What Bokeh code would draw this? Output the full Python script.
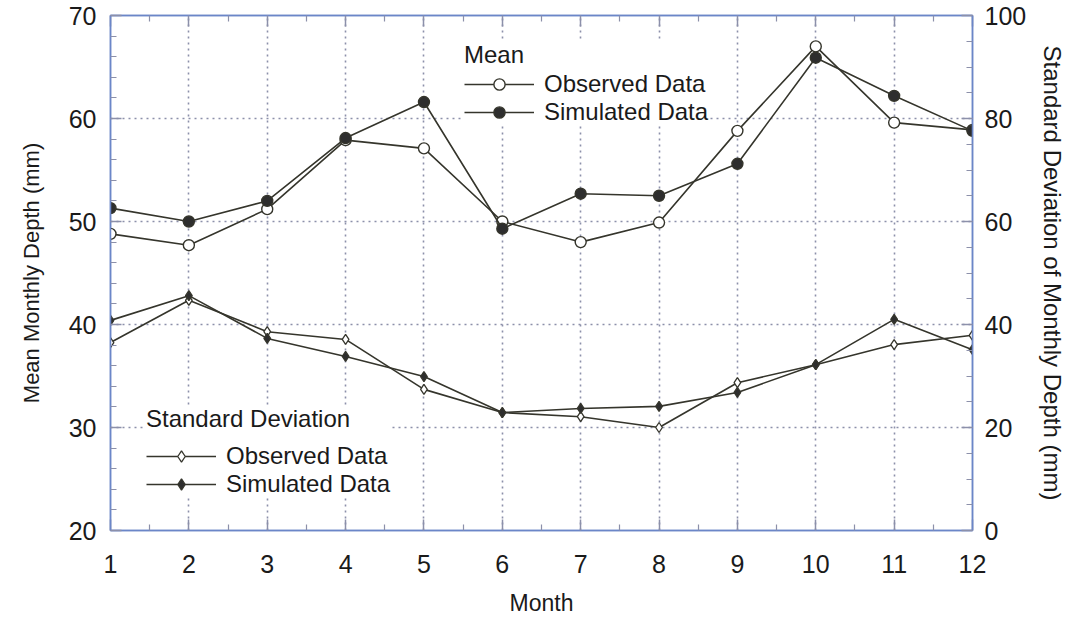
from bokeh.plotting import figure
from bokeh.models import (Range1d, LinearAxis, FixedTicker, Legend, LegendItem)
from bokeh.embed import file_html
from bokeh.resources import INLINE

# Monthly precipitation depth statistics: observed vs simulated
months = [1, 2, 3, 4, 5, 6, 7, 8, 9, 10, 11, 12]
mean_observed = [48.8, 47.7, 51.2, 57.9, 57.1, 50.0, 48.0, 49.9, 58.8, 67.0, 59.6, 58.9]
mean_simulated = [51.3, 50.0, 52.0, 58.1, 61.6, 49.3, 52.7, 52.5, 55.6, 65.9, 62.2, 58.8]
sd_observed = [36.5, 44.7, 38.6, 37.1, 27.4, 22.9, 22.1, 20.0, 28.7, 32.2, 36.1, 37.9]
sd_simulated = [40.8, 45.6, 37.3, 33.8, 29.9, 22.9, 23.7, 24.1, 26.8, 32.2, 41.0, 35.1]

FONT = "Liberation Sans"
LINE = "#35352c"
FRAME = "#6b86c8"
GRID = "#8c90aa"
TEXT = "#1a1a1a"

p = figure(width=1073, height=620, output_backend="svg", toolbar_location=None,
           x_range=Range1d(1, 12), y_range=Range1d(20, 70),
           min_border_left=110, min_border_right=101,
           min_border_top=15, min_border_bottom=90)
p.extra_y_ranges = {"sd": Range1d(0, 100)}
p.background_fill_color = "white"
p.border_fill_color = "white"
p.outline_line_color = FRAME
p.outline_line_width = 1.5


def style_axis(ax, ticks, minor, label_size="23px"):
    ax.ticker = FixedTicker(ticks=ticks, minor_ticks=minor)
    ax.axis_line_color = FRAME
    ax.axis_line_width = 1.5
    ax.major_tick_in = 11
    ax.major_tick_out = 0
    ax.minor_tick_in = 6
    ax.minor_tick_out = 0
    ax.major_tick_line_color = GRID
    ax.minor_tick_line_color = GRID
    ax.major_tick_line_width = 1.5
    ax.minor_tick_line_width = 1.2
    ax.major_label_text_font = FONT
    ax.major_label_text_font_size = "25px"
    ax.major_label_text_color = TEXT
    ax.axis_label_text_font = FONT
    ax.axis_label_text_font_size = label_size
    ax.axis_label_text_font_style = "normal"
    ax.axis_label_text_color = TEXT


x_minor = [m + 0.5 for m in months[:-1]]
left_minor = [v for v in range(20, 71, 2)]
right_minor = [v for v in range(0, 101, 5)]

xa = p.xaxis[0]
style_axis(xa, months, x_minor, "23px")
xa.axis_label = "Month"
xa.major_label_standoff = 24
xa.axis_label_standoff = 14

ya = p.yaxis[0]
style_axis(ya, [20, 30, 40, 50, 60, 70], left_minor, "22px")
ya.axis_label = "Mean Monthly Depth (mm)"
ya.major_label_standoff = 14
ya.axis_label_standoff = 22

ra = LinearAxis(y_range_name="sd", axis_label="Standard Deviation of Monthly Depth (mm)")
style_axis(ra, [0, 20, 40, 60, 80, 100], right_minor, "24px")
ra.major_label_standoff = 12
ra.axis_label_standoff = 10
p.add_layout(ra, "right")

# tick marks along the top edge, without labels
ta = LinearAxis(major_label_overrides={m: "" for m in months})
style_axis(ta, months, x_minor)
ta.major_label_standoff = 0
p.add_layout(ta, "above")

p.xgrid.ticker = FixedTicker(ticks=months)
p.ygrid.ticker = FixedTicker(ticks=[30, 40, 50, 60])
for g in (p.xgrid[0], p.ygrid[0]):
    g.grid_line_color = GRID
    g.grid_line_dash = "2 4"
    g.grid_line_width = 1.6

# mean series (left axis)
mo_line = p.line(months, mean_observed, line_color=LINE, line_width=1.6)
mo_pts = p.scatter(months, mean_observed, marker="circle", size=11,
                   fill_color="white", line_color=LINE, line_width=1.4)
ms_line = p.line(months, mean_simulated, line_color=LINE, line_width=1.6)
ms_pts = p.scatter(months, mean_simulated, marker="circle", size=11,
                   fill_color="#2e2e2e", line_color=LINE, line_width=1.4)

# standard deviation series (right axis)
so_line = p.line(months, sd_observed, line_color=LINE, line_width=1.6, y_range_name="sd")
so_pts = p.scatter(months, sd_observed, marker="diamond", size=10, y_range_name="sd",
                   fill_color="white", line_color=LINE, line_width=1.3)
ss_line = p.line(months, sd_simulated, line_color=LINE, line_width=1.6, y_range_name="sd")
ss_pts = p.scatter(months, sd_simulated, marker="diamond", size=10, y_range_name="sd",
                   fill_color="#2e2e2e", line_color=LINE, line_width=1.3)


def make_legend(title, items, loc, standoff):
    lg = Legend(items=items, location=loc, title=title,
                title_text_font=FONT, title_text_font_size="24px",
                title_text_font_style="normal", title_text_color=TEXT,
                title_standoff=standoff,
                label_text_font=FONT, label_text_font_size="24px",
                label_text_color=TEXT, label_standoff=10,
                glyph_width=70, glyph_height=28, label_height=28,
                spacing=0, padding=2, margin=0,
                border_line_color=None, background_fill_color="white",
                background_fill_alpha=1.0)
    return lg


mean_legend = make_legend("Mean", [
    LegendItem(label="Observed Data", renderers=[mo_line, mo_pts]),
    LegendItem(label="Simulated Data", renderers=[ms_line, ms_pts]),
], (354, 404), 1)
sd_legend = make_legend("Standard Deviation", [
    LegendItem(label="Observed Data", renderers=[so_line, so_pts]),
    LegendItem(label="Simulated Data", renderers=[ss_line, ss_pts]),
], (36, 32), 9)
p.add_layout(mean_legend)
p.add_layout(sd_legend)

open("out.html", "w").write(file_html(p, INLINE))
